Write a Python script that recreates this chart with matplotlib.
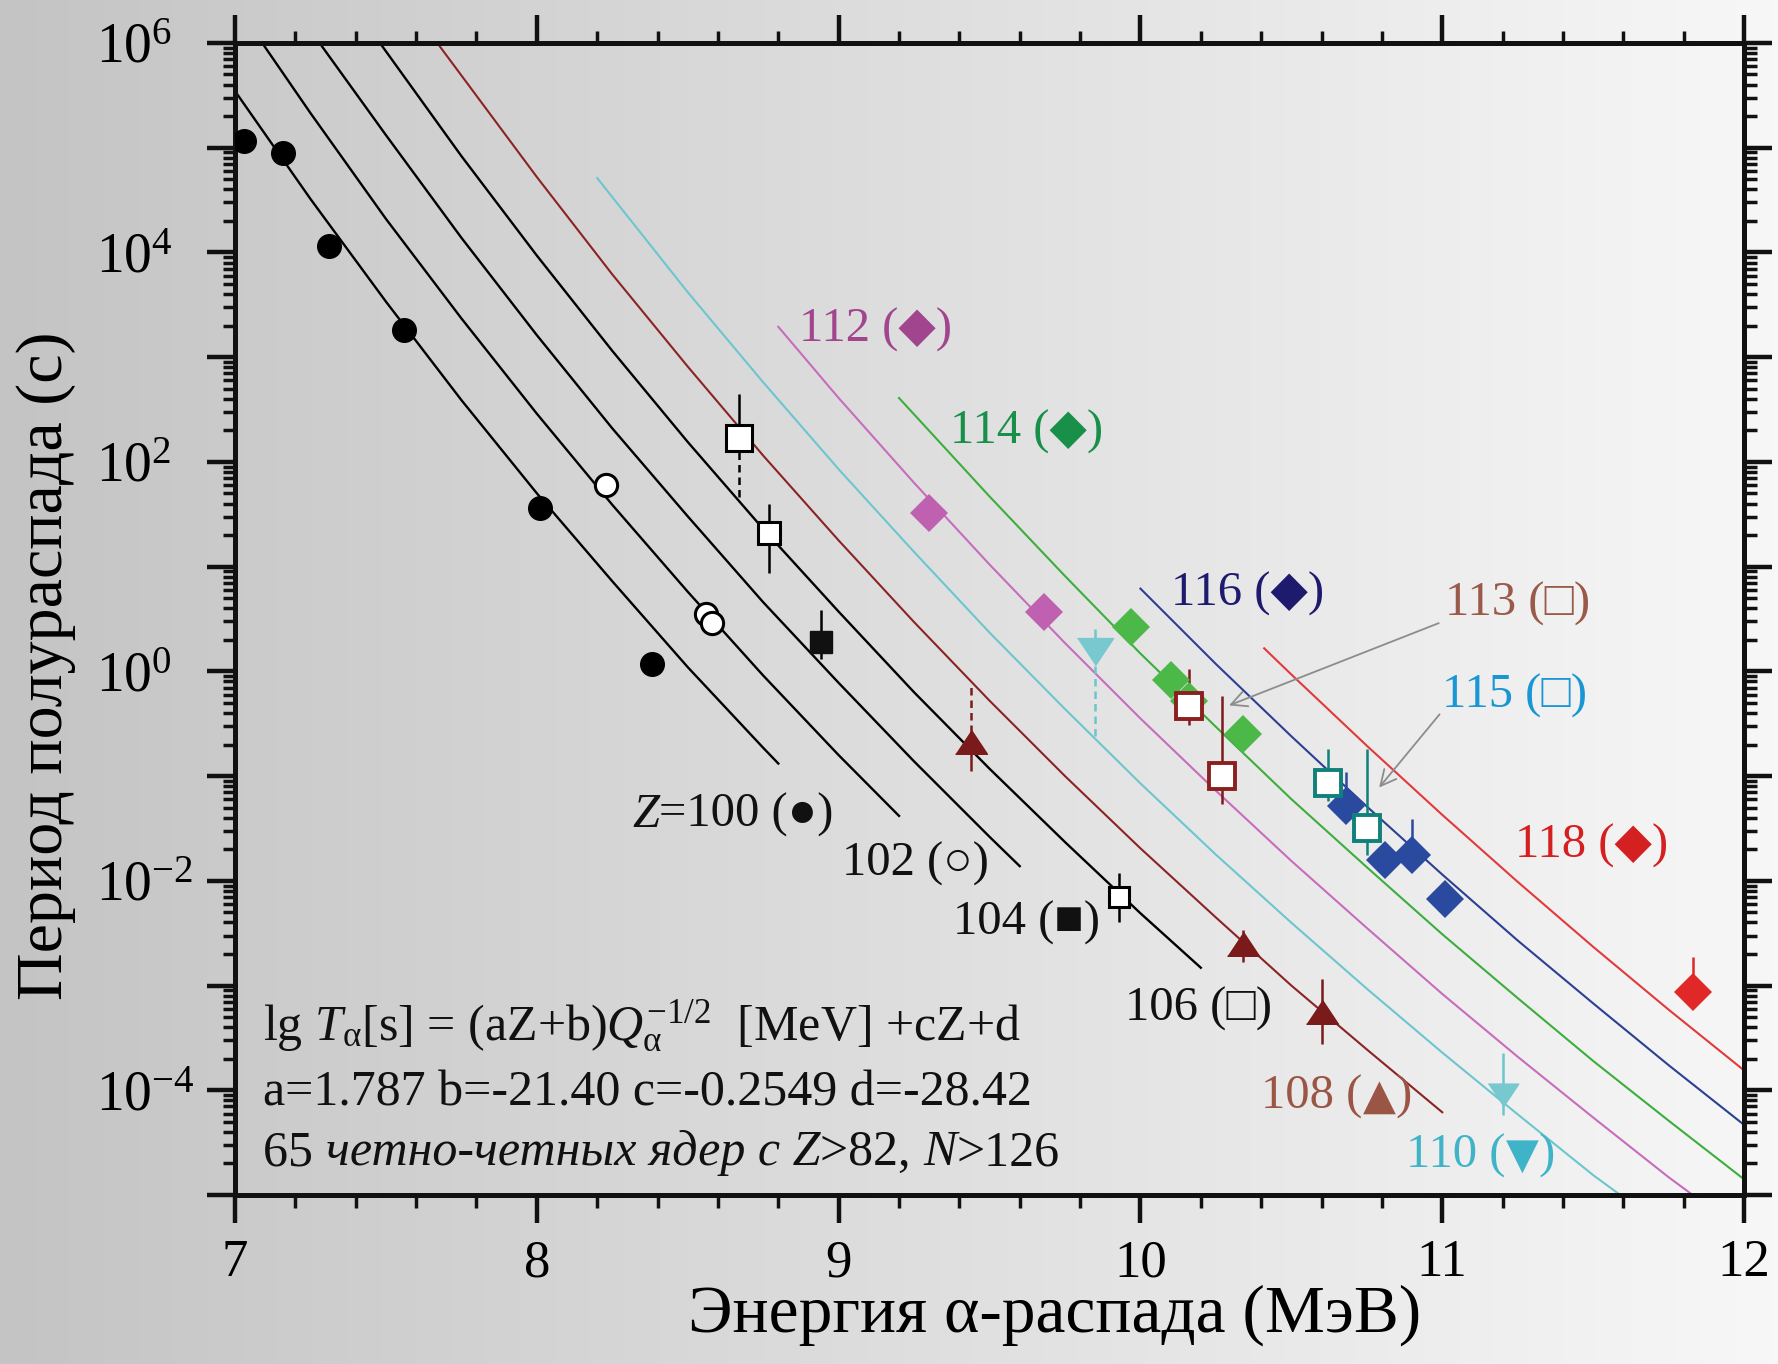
import numpy as np
import matplotlib.pyplot as plt
from matplotlib.colors import LinearSegmentedColormap
from matplotlib.ticker import MultipleLocator, LogLocator, FuncFormatter, NullFormatter

plt.rcParams['font.family'] = ['Liberation Serif', 'DejaVu Sans']
plt.rcParams['mathtext.fontset'] = 'custom'
plt.rcParams['mathtext.rm'] = 'Liberation Serif'
plt.rcParams['mathtext.it'] = 'Liberation Serif:italic'
plt.rcParams['mathtext.bf'] = 'Liberation Serif:bold'

# systematics curves lg T(E)
fit_Z = [100, 102, 104, 106, 108, 110, 112, 114, 116, 118]
fit_E = [
    [7.0, 7.25, 7.5, 7.75, 8.0, 8.25, 8.5, 8.75, 8.8],
    [7.09, 7.25, 7.5, 7.75, 8.0, 8.25, 8.5, 8.75, 9.0, 9.2],
    [7.28, 7.5, 7.75, 8.0, 8.25, 8.5, 8.75, 9.0, 9.25, 9.5, 9.6],
    [7.48, 7.75, 8.0, 8.25, 8.5, 8.75, 9.0, 9.25, 9.5, 9.75, 10.0, 10.2],
    [7.67, 7.75, 8.0, 8.25, 8.5, 8.75, 9.0, 9.25, 9.5, 9.75, 10.0, 10.25, 10.5, 10.75, 11.0],
    [8.2, 8.5, 8.75, 9.0, 9.25, 9.5, 9.75, 10.0, 10.25, 10.5, 10.75, 11.0, 11.25, 11.5, 11.59],
    [8.8, 9.0, 9.25, 9.5, 9.75, 10.0, 10.25, 10.5, 10.75, 11.0, 11.25, 11.5, 11.75, 11.83],
    [9.2, 9.5, 9.75, 10.0, 10.25, 10.5, 10.75, 11.0, 11.25, 11.5, 11.75, 12.0],
    [10.0, 10.25, 10.5, 10.75, 11.0, 11.25, 11.5, 11.75, 12.0],
    [10.41, 10.5, 10.75, 11.0, 11.25, 11.5, 11.75, 12.0],
]
fit_lg = [
    [5.54, 4.51, 3.53, 2.59, 1.70, 0.86, 0.04, -0.73, -0.88],
    [6.00, 5.33, 4.32, 3.37, 2.46, 1.59, 0.76, -0.04, -0.80, -1.38],
    [6.00, 5.12, 4.14, 3.21, 2.32, 1.48, 0.66, -0.11, -0.86, -1.58, -1.86],
    [6.00, 4.92, 3.97, 3.06, 2.19, 1.36, 0.57, -0.20, -0.93, -1.63, -2.31, -2.83],
    [6.00, 5.69, 4.72, 3.79, 2.91, 2.06, 1.25, 0.47, -0.28, -1.00, -1.69, -2.35, -3.00, -3.61, -4.21],
    [4.71, 3.62, 2.76, 1.93, 1.14, 0.37, -0.36, -1.07, -1.75, -2.40, -3.03, -3.64, -4.23, -4.81, -5.00],
    [3.29, 2.61, 1.80, 1.02, 0.27, -0.45, -1.14, -1.81, -2.45, -3.08, -3.68, -4.26, -4.83, -5.00],
    [2.61, 1.67, 0.91, 0.17, -0.53, -1.22, -1.87, -2.51, -3.12, -3.72, -4.29, -4.85],
    [0.79, 0.07, -0.62, -1.29, -1.94, -2.57, -3.17, -3.76, -4.33],
    [0.22, -0.03, -0.71, -1.37, -2.01, -2.63, -3.23, -3.81],
]

# measured nuclei: alpha energy (MeV), lg T (s)
z100_E = [7.03, 7.16, 7.31, 7.56, 8.01, 8.38]
z100_lg = [5.06, 4.95, 4.06, 3.26, 1.56, 0.07]
z102_E = [8.23, 8.56, 8.58]
z102_lg = [1.78, 0.55, 0.46]
z104_E = [8.94]
z104_lg = [0.28]
z104_bar = [(0.12, 0.59)]
z106_E = [8.67, 8.77, 9.93]
z106_lg = [2.23, 1.32, -2.15]
z106_bar = [(2.23, 2.65), (0.94, 1.60), (-2.39, -1.93)]
z106_dash = [(1.66, 2.23), None, None]
z108_E = [9.44, 10.34, 10.60]
z108_lg = [-0.70, -2.63, -3.28]
z108_bar = [(-0.95, -0.70), (-2.78, -2.47), (-3.56, -2.94)]
z108_dash = [(-0.70, -0.13), None, None]
z110_E = [9.85, 11.20]
z110_lg = [0.22, -4.02]
z110_bar = [(0.22, 0.40), (-4.24, -3.64)]
z110_dash = [(-0.62, 0.22), None]
z112_E = [9.30, 9.68]
z112_lg = [1.51, 0.57]
z113_E = [10.16, 10.27]
z113_lg = [-0.33, -1.00]
z113_bar = [(-0.51, 0.02), (-1.27, -0.24)]
z114_E = [9.97, 10.10, 10.16, 10.34]
z114_lg = [0.42, -0.08, -0.28, -0.60]
z115_E = [10.62, 10.75]
z115_lg = [-1.07, -1.50]
z115_bar = [(-1.24, -0.74), (-1.75, -0.74)]
z116_E = [10.68, 10.81, 10.90, 11.01]
z116_lg = [-1.29, -1.80, -1.75, -2.17]
z116_bar = [(-1.29, -0.96), None, (-1.75, -1.41), None]
z118_E = [11.83]
z118_lg = [-3.06]
z118_bar = [(-3.06, -2.73)]

fit_colors = ['black'] * 4 + ['#8b2323', '#6cc6cf', '#c86cbc', '#3cae3c', '#2b3f93', '#e23a3a']

fig = plt.figure(figsize=(17.78, 13.64), dpi=100)

# grey gradient background
bg = fig.add_axes([0, 0, 1, 1], zorder=-10)
cmap = LinearSegmentedColormap.from_list('bg', ['#c4c4c4', '#f7f7f7'])
bg.imshow(np.linspace(0, 1, 256)[None, :], aspect='auto', cmap=cmap, extent=[0, 1, 0, 1])
bg.axis('off')

ax = fig.add_axes([0.1322, 0.1239, 0.8487, 0.8446])
ax.set_facecolor('none')
ax.set_yscale('log')
ax.set_xlim(7, 12)
ax.set_ylim(1e-5, 1e6)

for E, lg, c in zip(fit_E, fit_lg, fit_colors):
    lw = 1.7 if c == 'black' else 1.5
    ax.plot(E, 10.0 ** np.array(lg), color=c, lw=lw, zorder=2)


def bars(E, bar, color, ls='-', lw=1.8):
    for e, b in zip(E, bar):
        if b is None:
            continue
        ax.vlines(e, 10.0 ** b[0], 10.0 ** b[1], color=color, lw=lw, linestyles=ls, zorder=3)


def pts(E, lg, **kw):
    ax.plot(E, 10.0 ** np.array(lg), ls='none', zorder=4, **kw)


tri_up = [(-1, -0.55), (1, -0.55), (0, 0.95)]
tri_dn = [(-1, 0.55), (1, 0.55), (0, -0.95)]

# error bars
bars(z104_E, z104_bar, 'black')
bars(z106_E, z106_bar, 'black')
bars(z106_E, z106_dash, 'black', ls=(0, (3, 2)))
bars(z108_E, z108_bar, '#7a1a1a')
bars(z108_E, z108_dash, '#7a1a1a', ls=(0, (3, 2)))
bars(z110_E, z110_bar, '#6cc6cf')
bars(z110_E, z110_dash, '#6cc6cf', ls=(0, (3, 2)))
bars(z113_E, z113_bar, '#7a1a1a')
bars(z115_E, z115_bar, '#10807a')
bars(z116_E, z116_bar, '#2a4aa0')
bars(z118_E, z118_bar, '#e02828')

# markers
pts(z100_E, z100_lg, marker='o', ms=17, color='black')
pts(z102_E, z102_lg, marker='o', ms=16, mfc='white', mec='black', mew=2.2)
pts(z104_E, z104_lg, marker='s', ms=16, color='#111111')
for e, lg, ms in zip(z106_E, z106_lg, [19, 15.5, 14]):
    pts([e], [lg], marker='s', ms=ms, mfc='white', mec='black', mew=2.2)
pts(z108_E, z108_lg, marker=tri_up, ms=23, color='#7a1a1a')
for e, lg, ms in zip(z110_E, z110_lg, [26, 22]):
    pts([e], [lg], marker=tri_dn, ms=ms, color='#78c8d0')
pts(z112_E, z112_lg, marker='D', ms=19, color='#c060b0', mew=0)
pts(z114_E, z114_lg, marker='D', ms=19, color='#4cb848', mew=0)
pts(z113_E, z113_lg, marker='s', ms=19, mfc='white', mec='#8b2020', mew=2.8)
pts(z116_E, z116_lg, marker='D', ms=19, color='#2a4aa0', mew=0)
pts(z115_E, z115_lg, marker='s', ms=19, mfc='white', mec='#10807a', mew=2.8)
pts(z118_E, z118_lg, marker='D', ms=19, color='#e02828', mew=0)

# axes styling
ax.xaxis.set_major_locator(MultipleLocator(1))
ax.xaxis.set_minor_locator(MultipleLocator(0.2))
ax.xaxis.set_major_formatter(FuncFormatter(lambda v, p: '%d' % round(v)))
ax.yaxis.set_major_locator(LogLocator(base=10, numticks=30))
ax.yaxis.set_minor_locator(LogLocator(base=10, subs=np.arange(2, 10), numticks=100))
ax.yaxis.set_minor_formatter(NullFormatter())


def ylab(v, p):
    e = int(round(np.log10(v)))
    if e % 2:
        return ''
    return r'$\mathdefault{10^{%d}}$' % e


ax.yaxis.set_major_formatter(FuncFormatter(ylab))
ax.tick_params(which='both', direction='out', top=True, right=True,
               labeltop=False, labelright=False, color='#111111')
ax.tick_params(which='major', length=20, width=3.2)
ax.tick_params(axis='x', which='major', pad=12, labelsize=38)
ax.tick_params(axis='y', which='major', pad=80, labelsize=40)
ax.tick_params(which='minor', length=9, width=2.5)
plt.setp(ax.get_yticklabels(), ha='left')
for s in ax.spines.values():
    s.set_linewidth(3.6)
    s.set_color('#111111')

fig.text(0.5934, 0.036, 'Энергия α-распада (МэВ)', ha='center', va='center', fontsize=48.5)
fig.text(0.026, 0.512, 'Период полураспада (с)', ha='center', va='center',
         rotation=90, fontsize=47.5)


def runs(x, y, parts, size, color):
    # parts: (text, style[, family, size factor, dy in points])
    s0, st0 = parts[0][:2]
    t = ax.text(x, 10.0 ** y, s0, style=st0, fontsize=size,
                color=color, va='center', ha='left', zorder=5)
    for p in parts[1:]:
        fam = p[2] if len(p) > 2 else plt.rcParams['font.family']
        k = p[3] if len(p) > 3 else 1.0
        dy = p[4] if len(p) > 4 else 0
        t = ax.annotate(p[0], xy=(1, 0), xycoords=t, xytext=(0, dy),
                        textcoords='offset points', va='bottom', ha='left',
                        style=p[1], family=fam, fontsize=size * k, color=color, zorder=5)
    return t


sym = ['DejaVu Sans']
serif = ['Liberation Serif']
lab = 35
runs(8.315, -1.37, [('Z', 'italic'), ('=100 (●)', 'normal')], lab, '#111111')
runs(9.01, -1.84, [('102 (○)', 'normal')], lab, '#111111')
runs(9.38, -2.40, [('104 (■)', 'normal')], lab, '#111111')
runs(9.95, -3.22, [('106 (□)', 'normal')], lab, '#111111')
runs(10.40, -4.06, [('108 (', 'normal'), ('▲', 'normal', sym, 0.88, 1.0),
                    (')', 'normal', serif, 1.0, -1.0)], lab, '#9b5545')
runs(10.88, -4.63, [('110 (', 'normal'), ('▼', 'normal', sym, 0.88, 1.0),
                    (')', 'normal', serif, 1.0, -1.0)], lab, '#3fb4c8')
runs(8.87, 3.26, [('112 (◆)', 'normal')], lab, '#a0458e')
runs(9.37, 2.29, [('114 (◆)', 'normal')], lab, '#18904a')
runs(10.10, 0.74, [('116 (◆)', 'normal')], lab, '#1e1a6e')
runs(11.01, 0.64, [('113 (□)', 'normal')], lab, '#9a5a4a')
runs(11.0, -0.23, [('115 (□)', 'normal')], lab, '#1a96d4')
runs(11.24, -1.67, [('118 (◆)', 'normal')], lab, '#d42020')

arrow = dict(arrowstyle='->', color='#8c8c8c', lw=1.3, mutation_scale=28)
ax.annotate('', xy=(10.285, 10 ** -0.335), xytext=(10.997, 10 ** 0.47), arrowprops=arrow)
ax.annotate('', xy=(10.785, 10 ** -1.13), xytext=(10.997, 10 ** -0.39), arrowprops=arrow)

fs = 36
runs(7.093, -3.39, [(r'lg $T_{\mathrm{\alpha}}$[s] = (aZ+b)$Q_{\mathrm{\alpha}}^{-1/2}$  [MeV] +cZ+d',
                     'normal')], fs, '#111111')
runs(7.093, -4.03, [('a=1.787 b=-21.40 c=-0.2549 d=-28.42', 'normal')], fs, '#111111')
runs(7.093, -4.60, [('65 ', 'normal'), ('четно-четных ядер с Z', 'italic'),
                    ('>82, ', 'normal'), ('N', 'italic'), ('>126', 'normal')], fs, '#111111')

fig.savefig('out.png', dpi=100)
